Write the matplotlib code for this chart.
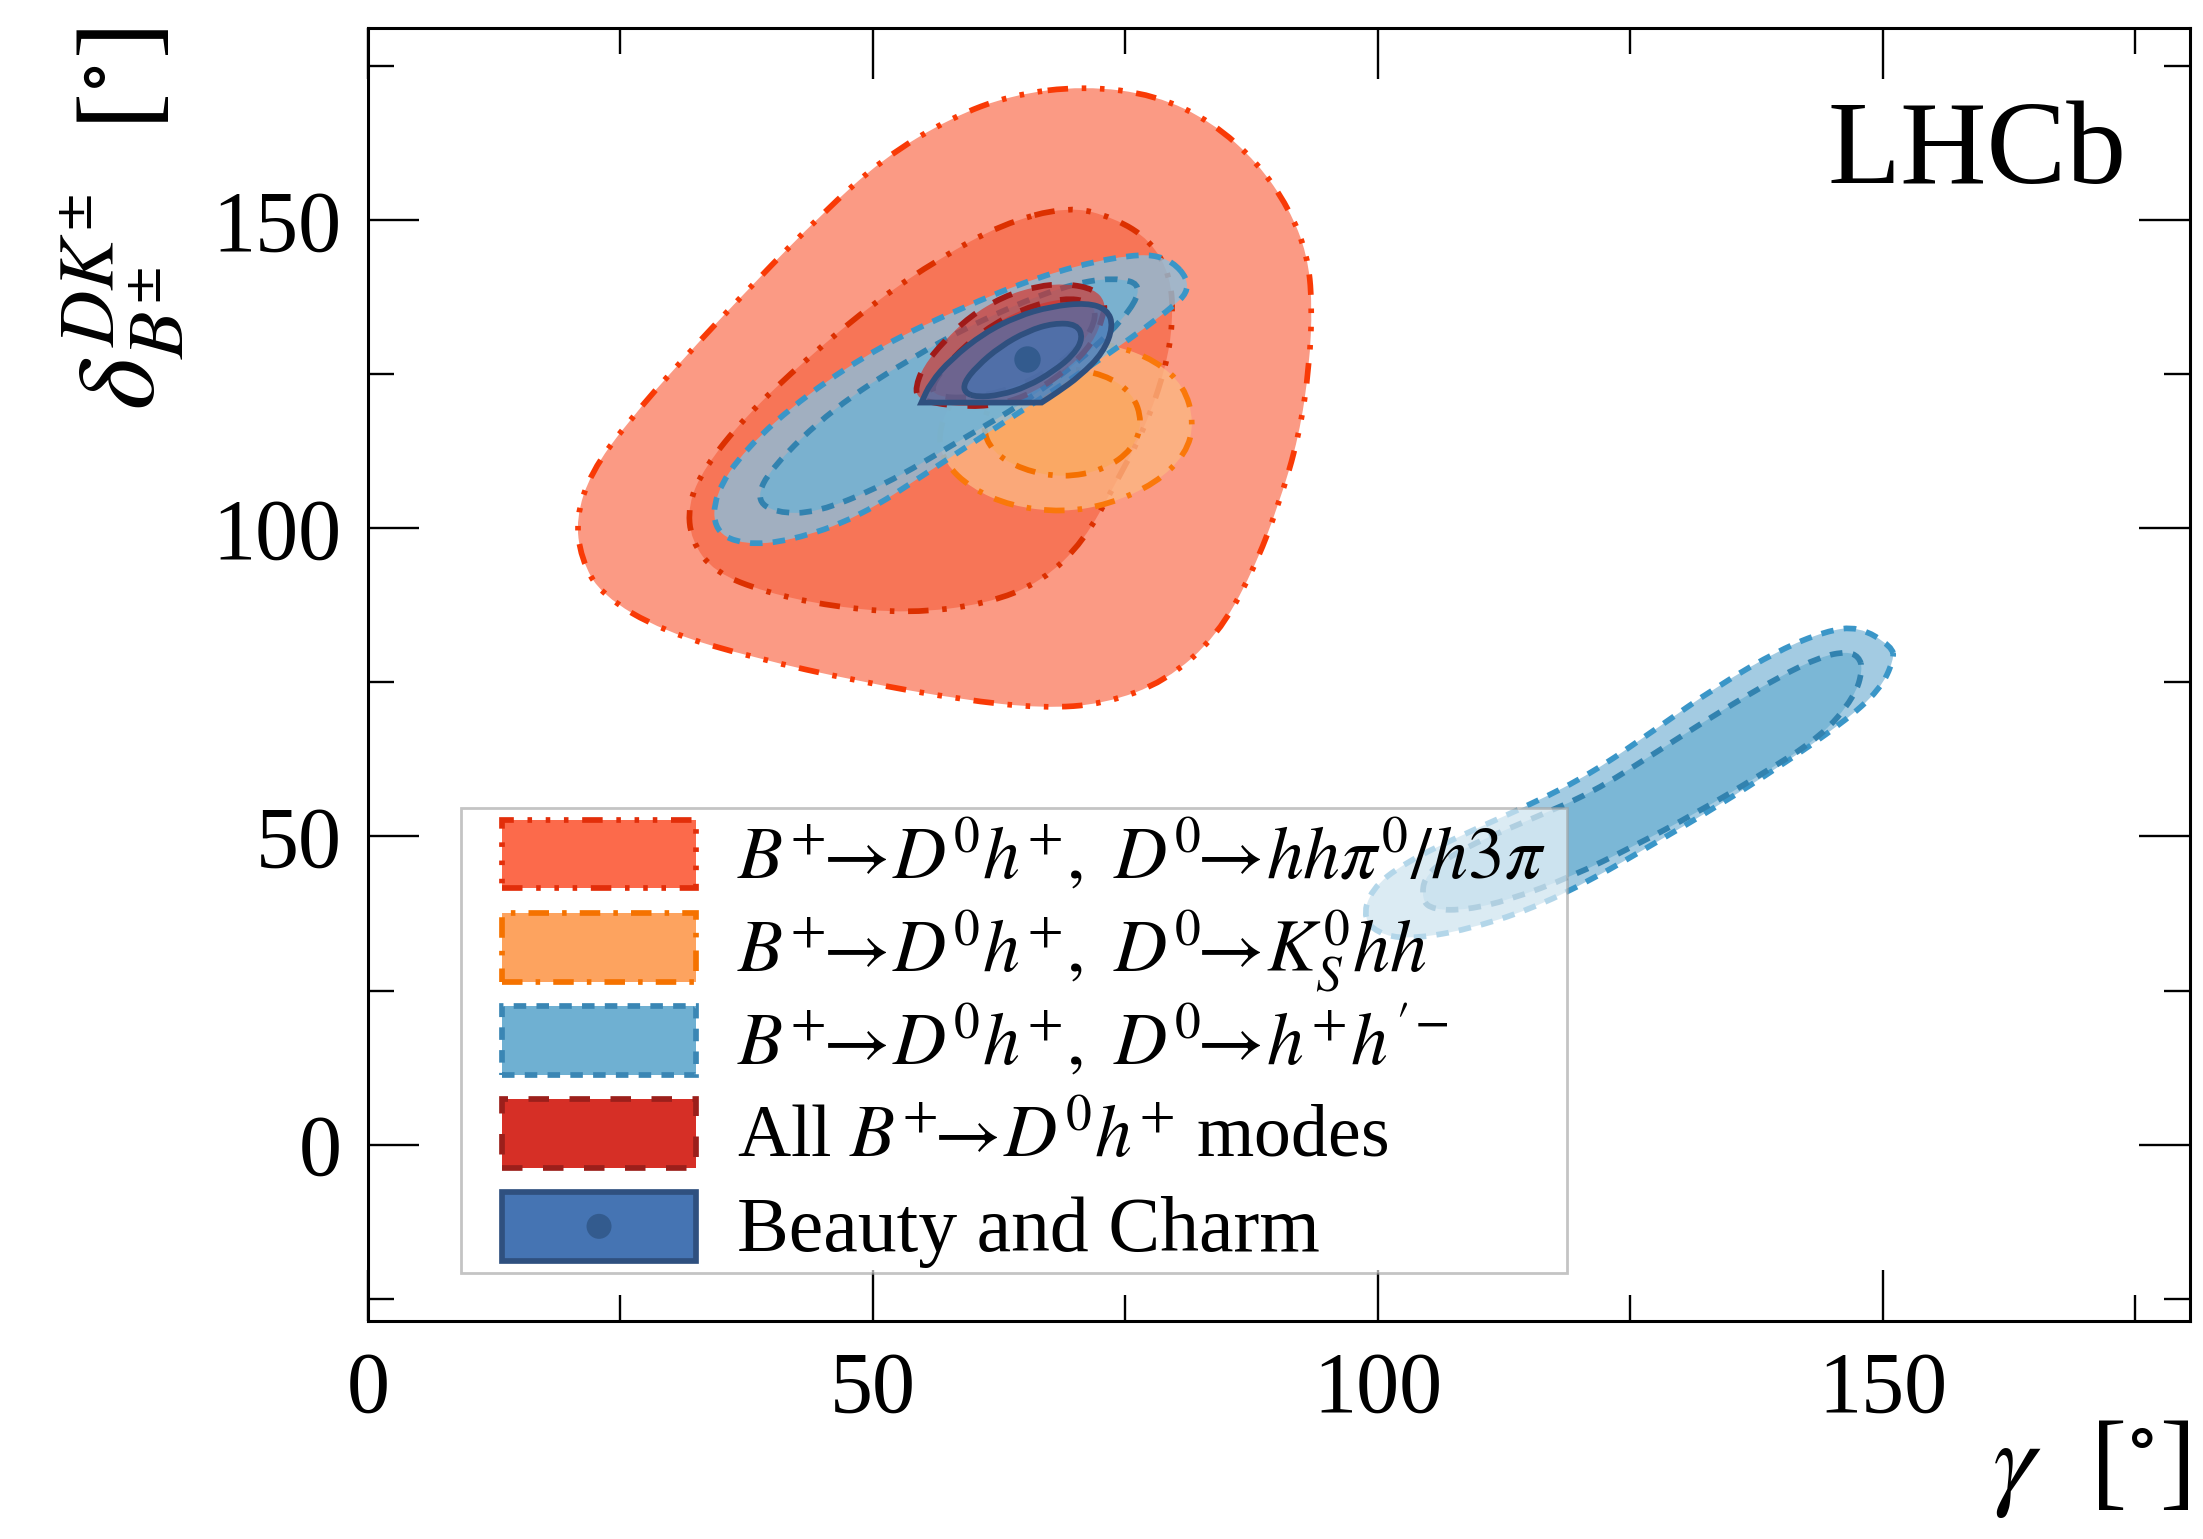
import numpy as np
import matplotlib.pyplot as plt
from matplotlib.path import Path
from matplotlib.patches import PathPatch, Patch, Rectangle, Circle
from matplotlib.colors import to_rgba
from matplotlib.ticker import MultipleLocator
from matplotlib.legend_handler import HandlerPatch

plt.rcParams['font.family'] = ['Liberation Serif', 'DejaVu Serif']
plt.rcParams['mathtext.fontset'] = 'stix'

# contour outlines, (gamma, delta) in degrees
# B+ -> D0 h+, D0 -> hh pi0 / h3pi
hhpi0_2s_x = [70.9, 78.0, 83.6, 88.1, 91.2, 93.0, 93.5, 93.2, 92.2, 90.2, 87.6, 84.1, 79.0, 72.9,
              66.8, 58.7, 48.5, 38.4, 29.2, 23.1, 21.1, 20.6, 22.1, 25.7, 31.2, 38.4, 45.0, 51.0, 57.7, 63.7]
hhpi0_2s_y = [171.8, 170.3, 165.9, 159.3, 151.9, 144.5, 136.4, 126.1, 115.0, 103.9, 92.9, 82.6, 75.2, 71.5,
              70.8, 72.2, 75.2, 78.9, 83.3, 89.2, 95.1, 101.7, 109.1, 117.2, 127.5, 140.1, 151.1, 160.0, 166.6, 170.3]
hhpi0_1s_x = [69.3, 73.9, 77.5, 79.5, 79.7, 79.0, 77.0, 73.9, 70.9, 66.8, 61.2, 53.6, 46.0, 39.4,
              34.3, 32.0, 31.7, 33.3, 37.3, 43.4, 50.5, 56.6, 62.7]
hhpi0_1s_y = [152.3, 150.4, 146.7, 140.8, 133.4, 126.1, 116.5, 106.9, 98.0, 91.4, 87.7, 86.2, 87.3, 89.6,
              92.9, 98.0, 103.9, 109.8, 118.0, 127.5, 137.1, 143.8, 149.3]

# B+ -> D0 h+, D0 -> KS hh
kshh_2s_x = [68.8, 73.9, 78.0, 80.8, 81.8, 81.0, 78.0, 73.4, 68.8, 63.7, 59.7, 57.1, 56.4, 57.7, 61.2, 64.8]
kshh_2s_y = [130.5, 129.8, 127.2, 123.1, 117.2, 112.1, 107.3, 103.9, 102.6, 103.6, 106.5, 110.6, 115.0, 120.9, 126.1, 129.0]
kshh_1s_x = [68.8, 72.9, 75.7, 76.7, 75.7, 72.9, 68.8, 64.8, 61.8, 60.8, 61.7, 64.8]
kshh_1s_y = [126.1, 125.0, 122.0, 117.2, 112.8, 109.5, 108.2, 109.5, 112.4, 116.5, 120.9, 124.6]

# B+ -> D0 h+, D0 -> h+ h'-  (two islands)
hh_2s_x = [79.0, 73.9, 66.3, 58.7, 51.0, 43.4, 37.3, 34.3, 34.3, 37.3, 41.9, 48.5, 56.1, 63.7, 71.4, 79.0, 81.8]
hh_2s_y = [144.5, 144.1, 140.8, 135.7, 129.8, 121.7, 112.8, 105.4, 99.5, 97.3, 98.0, 101.7, 109.8, 118.0, 126.1, 134.9, 139.3]
hh_1s_x = [77.0, 73.9, 68.8, 61.2, 53.6, 46.0, 39.9, 38.4, 40.4, 44.4, 51.0, 58.7, 66.3, 73.9]
hh_1s_y = [139.3, 140.8, 139.3, 134.2, 127.5, 119.4, 109.8, 104.7, 102.5, 102.5, 106.9, 114.3, 121.7, 132.0]
hh_2s_b_x = [150.9, 147.6, 144.3, 139.8, 133.6, 127.4, 121.2, 115.4, 108.8, 102.6, 99.3, 98.5, 100.6, 103.9,
             108.8, 115.0, 121.2, 127.4, 133.6, 139.8, 146.0, 149.7, 151.1]
hh_2s_b_y = [80.8, 84.1, 83.3, 80.3, 74.4, 67.3, 60.3, 55.4, 50.6, 45.7, 41.4, 36.5, 33.8, 33.5,
             34.9, 38.1, 43.0, 48.9, 54.9, 61.4, 68.4, 73.8, 78.7]
hh_1s_b_x = [147.6, 146.4, 143.9, 139.8, 133.6, 127.4, 121.2, 115.0, 108.8, 104.7, 104.3, 105.5, 108.8,
             113.0, 119.2, 125.3, 131.5, 137.7, 143.9, 147.2, 148.0]
hh_1s_b_y = [79.2, 80.0, 79.2, 76.0, 70.0, 63.5, 57.1, 52.7, 48.4, 44.1, 39.7, 38.1, 38.1,
             39.7, 43.5, 48.4, 53.8, 59.8, 66.2, 72.7, 77.1]

# all B+ -> D0 h+ modes
dh_2s_x = [54.2, 55.0, 57.0, 59.6, 62.9, 66.2, 69.2, 71.9, 73.0, 72.8, 71.8, 69.2, 65.9, 62.6, 59.3, 56.0, 54.5]
dh_2s_y = [122.8, 126.3, 130.3, 134.4, 137.6, 139.3, 139.7, 138.8, 136.8, 134.4, 130.1, 125.7, 122.0, 120.1, 119.7, 120.3, 121.1]
dh_1s_x = [55.7, 57.7, 61.0, 64.9, 68.9, 71.5, 72.2, 70.9, 67.6, 63.6, 59.3, 56.3]
dh_1s_y = [123.0, 127.4, 132.2, 135.7, 137.4, 136.8, 134.4, 130.1, 125.7, 122.5, 121.1, 121.4]

# Beauty and Charm combination (flat lower edge, corners repeated)
bc_2s_x = [54.8, 54.8, 55.7, 57.7, 61.0, 64.3, 67.6, 71.2, 73.2, 73.8, 72.8, 70.5, 68.2, 66.7, 66.7]
bc_2s_y = [120.4, 120.4, 123.6, 127.4, 131.7, 134.4, 136.0, 136.6, 135.5, 132.8, 128.5, 124.7, 122.0, 120.4, 120.4]
bc_1s_x = [59.1, 59.0, 60.3, 62.6, 65.3, 67.9, 70.2, 70.8, 69.9, 67.9, 65.3, 62.6, 60.3]
bc_1s_y = [122.0, 123.6, 126.3, 129.5, 132.0, 133.3, 133.1, 130.9, 128.2, 125.5, 123.0, 121.6, 121.3]
bc_best = (65.3, 127.5)

labels = [r'$B^{+}\!\!\to\! D^{0}h^{+},\ D^{0}\!\!\to\! hh\pi^{0}/h3\pi$',
          r'$B^{+}\!\!\to\! D^{0}h^{+},\ D^{0}\!\!\to\! K^{0}_{S}hh$',
          r"$B^{+}\!\!\to\! D^{0}h^{+},\ D^{0}\!\!\to\! h^{+}h'^{-}$",
          r'All $B^{+}\!\!\to\! D^{0}h^{+}$ modes',
          'Beauty and Charm']

ls_hhpi0 = (0, (3.6, 2.4, 0.8, 2.4, 0.8, 2.4, 0.8, 2.4))
ls_kshh = (0, (3.6, 2.3, 0.8, 2.3))
ls_hh = (0, (2.2, 1.8))
ls_dh = (0, (3.6, 3.6))
LW = 4.1
A = 0.8


def smooth_path(xs, ys):
    # closed quadratic b-spline with the read points as control points
    pts = np.column_stack([xs, ys])
    mids = (pts + np.roll(pts, -1, axis=0)) / 2
    verts = [mids[-1]]
    codes = [Path.MOVETO]
    for p, m in zip(pts, mids):
        verts += [p, m]
        codes += [Path.CURVE3, Path.CURVE3]
    return Path(verts, codes)


def draw_region(ax, xs, ys, fc, alpha, ec, ls, z):
    path = smooth_path(xs, ys)
    ax.add_patch(PathPatch(path, facecolor=to_rgba(fc, alpha), edgecolor='none', zorder=z))
    ax.add_patch(PathPatch(path, facecolor='none', edgecolor=ec, lw=LW, linestyle=ls,
                           zorder=z + 0.5, capstyle='butt'))


fig = plt.figure(figsize=(22.03, 15.39), dpi=100)
ax = fig.add_axes([0.167, 0.1417, 0.8271, 0.8402])

draw_region(ax, hhpi0_2s_x, hhpi0_2s_y, '#fa8165', A, '#f93a06', ls_hhpi0, 1)
draw_region(ax, hhpi0_1s_x, hhpi0_1s_y, '#f76c4c', A, '#dc3000', ls_hhpi0, 2)
draw_region(ax, kshh_2s_x, kshh_2s_y, '#fcb682', A, '#fa780a', ls_kshh, 3)
draw_region(ax, kshh_1s_x, kshh_1s_y, '#fba85f', A, '#f57000', ls_kshh, 4)
draw_region(ax, hh_2s_x, hh_2s_y, '#8cbedb', A, '#3a96c8', ls_hh, 5)
draw_region(ax, hh_1s_x, hh_1s_y, '#71b2d3', A, '#3282af', ls_hh, 6)
draw_region(ax, hh_2s_b_x, hh_2s_b_y, '#8cbedb', A, '#3a96c8', ls_hh, 5)
draw_region(ax, hh_1s_b_x, hh_1s_b_y, '#71b2d3', A, '#3282af', ls_hh, 6)
draw_region(ax, dh_2s_x, dh_2s_y, '#d73027', 0.65, '#a01a18', ls_dh, 7)
draw_region(ax, dh_1s_x, dh_1s_y, '#d73027', 0.65, '#a01a18', ls_dh, 8)
draw_region(ax, bc_2s_x, bc_2s_y, '#4575b4', 0.7, '#2f507f', '-', 9)
draw_region(ax, bc_1s_x, bc_1s_y, '#4575b4', 0.7, '#2f507f', '-', 10)
ax.plot(*bc_best, 'o', color='#335b8e', ms=18, zorder=11)

ax.set_xlim(0, 180.4)
ax.set_ylim(-28.6, 181.2)
ax.xaxis.set_major_locator(MultipleLocator(50))
ax.xaxis.set_minor_locator(MultipleLocator(25))
ax.yaxis.set_major_locator(MultipleLocator(50))
ax.yaxis.set_minor_locator(MultipleLocator(25))
ax.tick_params(which='both', direction='in', top=True, right=True, width=1.7, labelsize=62)
ax.tick_params(which='major', length=37)
ax.tick_params(which='minor', length=19)
ax.tick_params(axis='x', pad=22)
ax.tick_params(axis='y', pad=19)
for sp in ax.spines.values():
    sp.set_linewidth(2.2)

ax.set_xlabel(r'$\gamma$  [$^{\circ}$]', fontsize=78, loc='right')
ax.xaxis.set_label_coords(1.0, -0.075)
ax.set_ylabel(r'$\delta_{B^{\pm}}^{DK^{\pm}}$  [$^{\circ}$]', fontsize=80, loc='top')
ax.yaxis.set_label_coords(-0.1, 1.0)

ax.text(0.965, 0.88, 'LHCb', transform=ax.transAxes, ha='right', va='baseline', fontsize=86)

# legend patch geometry inside the handle box (points)
PW, PH, PDX = 140, 49.5, 29.5


def small_rect(legend, orig_handle, xdescent, ydescent, width, height, fontsize):
    return Rectangle((-xdescent + PDX, -ydescent + (height - PH) / 2), PW, PH)


def centre_dot(legend, orig_handle, xdescent, ydescent, width, height, fontsize):
    return Circle((-xdescent + PDX + PW / 2, -ydescent + height / 2), 9)


handles = [Patch(facecolor='#fc6a4b', edgecolor='#e22e0a', lw=LW, linestyle=ls_hhpi0),
           Patch(facecolor='#fda35f', edgecolor='#f57200', lw=LW, linestyle=ls_kshh),
           Patch(facecolor='#6fb0d2', edgecolor='#3a86b4', lw=LW, linestyle=ls_hh),
           Patch(facecolor='#d62f26', edgecolor='#9b1f1b', lw=LW, linestyle=ls_dh),
           (Patch(facecolor='#4574b3', edgecolor='#2f507f', lw=LW),
            Circle((0, 0), 1, facecolor='#335b8e', edgecolor='none'))]
leg = ax.legend(handles, labels, loc='upper left', bbox_to_anchor=(0.051, 0.0, 0.607, 0.397),
                mode='expand', borderaxespad=0,
                fontsize=53, handlelength=169.5 / 53, handleheight=1.568, handletextpad=0.55,
                labelspacing=0.0, borderpad=0.0, fancybox=False, framealpha=0.62,
                edgecolor='#a0a0a0',
                handler_map={Patch: HandlerPatch(patch_func=small_rect),
                             Circle: HandlerPatch(patch_func=centre_dot)})
leg.get_frame().set_linewidth(2.0)
leg.get_texts()[4].set_fontsize(56)
leg.set_zorder(20)

fig.savefig('out.png', dpi=100)
